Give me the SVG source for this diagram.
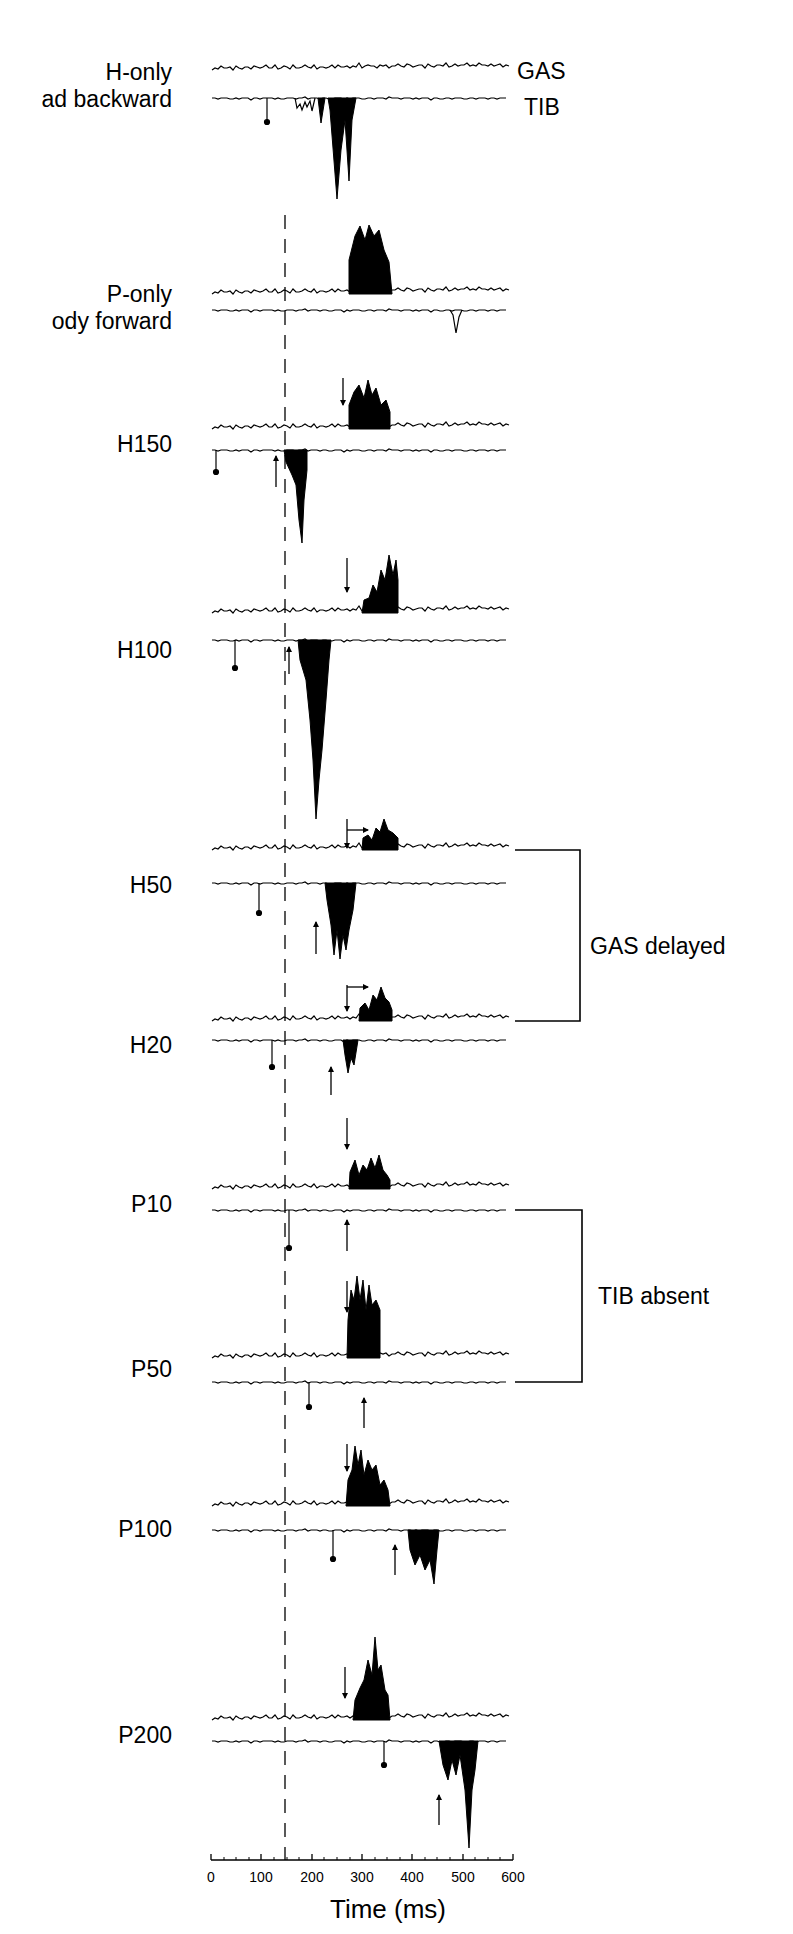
<svg xmlns="http://www.w3.org/2000/svg" width="793" height="1934" viewBox="0 0 793 1934">
<style>
.t{fill:none;stroke:#000;stroke-width:1.2}
.b{fill:#000;stroke:#000;stroke-width:1}
.ar{stroke:#000;stroke-width:1.3;fill:none;marker-end:url(#ah)}
.lb{font-family:"Liberation Sans",Arial,sans-serif;font-size:23px;fill:#000}
.tk{font-family:"Liberation Sans",Arial,sans-serif;font-size:14px;fill:#000;text-anchor:middle}
</style>
<defs>
<marker id="ah" markerWidth="6" markerHeight="8" refX="5" refY="4" orient="auto" markerUnits="userSpaceOnUse"><path d="M0,1 L6,4 L0,7 Z" fill="#000"/></marker>
<path id="n1" class="t" d="M0,0 l3,-2 3,1 3,-3 3,2 3,0 3,-1 3,3 3,-4 3,2 3,1 3,-2 3,0 3,2 3,-3 3,1 3,1 3,-1 3,-2 3,3 3,0 3,-3 3,4 3,-1 3,-2 3,1 3,2 3,-4 3,3 3,0 3,-1 3,-2 3,2 3,1 3,-3 3,4 3,-2 3,0 3,1 3,-1 3,-2 3,3 3,-3 3,2 3,0 3,-1 3,2 3,-2 3,1 3,-4 3,5 3,-2 3,-1 3,1 3,0 3,2 3,-3 3,1 3,-1 3,3 3,-2 3,0 3,-2 3,2 3,1 3,-3 3,1 3,2 3,-1 3,-1 3,0 3,3 3,-4 3,2 3,1 3,-2 3,0 3,1 3,-3 3,4 3,-1 3,-2 3,2 3,-1 3,0 3,-2 3,3 3,-1 3,1 3,-3 3,2 3,0 3,1 3,-2 3,2 3,-1 3,-1 3,3 3,-2 3,1"/>
<path id="n2" class="t" d="M0,0 l3,0 3,1 3,-1 3,0 3,0 3,1 3,0 3,-1 3,1 3,-1 3,0 3,0 3,2 3,-2 3,0 3,1 3,-1 3,0 3,0 3,0 3,1 3,-1 3,1 3,0 3,-1 3,0 3,0 3,1 3,-1 3,0 3,-1 3,2 3,-1 3,0 3,0 3,1 3,-1 3,0 3,1 3,0 3,-1 3,0 3,0 3,2 3,-2 3,1 3,-1 3,0 3,0 3,1 3,0 3,-1 3,0 3,1 3,-1 3,0 3,0 3,1 3,-2 3,1 3,0 3,0 3,1 3,-1 3,0 3,0 3,1 3,-1 3,1 3,-1 3,0 3,0 3,2 3,-2 3,0 3,1 3,0 3,-1 3,0 3,1 3,-1 3,0 3,0 3,1 3,0 3,-1 3,0 3,1 3,-1 3,0 3,0 3,1 3,-1 3,0 3,1 3,-1 3,0 3,0"/>
</defs>

<g id="labels">
<text class="lb" x="172" y="80" text-anchor="end">H-only</text>
<text class="lb" x="172" y="107" text-anchor="end">ad backward</text>
<text class="lb" x="172" y="302" text-anchor="end">P-only</text>
<text class="lb" x="172" y="329" text-anchor="end">ody forward</text>
<text class="lb" x="172" y="452" text-anchor="end">H150</text>
<text class="lb" x="172" y="658" text-anchor="end">H100</text>
<text class="lb" x="172" y="893" text-anchor="end">H50</text>
<text class="lb" x="172" y="1053" text-anchor="end">H20</text>
<text class="lb" x="172" y="1212" text-anchor="end">P10</text>
<text class="lb" x="172" y="1377" text-anchor="end">P50</text>
<text class="lb" x="172" y="1537" text-anchor="end">P100</text>
<text class="lb" x="172" y="1743" text-anchor="end">P200</text>
<text class="lb" x="517" y="79">GAS</text>
<text class="lb" x="524" y="115">TIB</text>
<text class="lb" x="590" y="954">GAS delayed</text>
<text class="lb" x="598" y="1304">TIB absent</text>
</g>

<line x1="285" y1="215" x2="285" y2="1860" stroke="#000" stroke-width="1.3" stroke-dasharray="14,10"/>

<g id="traces">
<use href="#n1" x="212" y="70"/><use href="#n2" x="212" y="98"/>
<use href="#n1" x="212" y="294"/><use href="#n2" x="212" y="310"/>
<use href="#n1" x="212" y="429"/><use href="#n2" x="212" y="450"/>
<use href="#n1" x="212" y="613"/><use href="#n2" x="212" y="640"/>
<use href="#n1" x="212" y="850"/><use href="#n2" x="212" y="883"/>
<use href="#n1" x="212" y="1021"/><use href="#n2" x="212" y="1040"/>
<use href="#n1" x="212" y="1189"/><use href="#n2" x="212" y="1210"/>
<use href="#n1" x="212" y="1358"/><use href="#n2" x="212" y="1382"/>
<use href="#n1" x="212" y="1506"/><use href="#n2" x="212" y="1530"/>
<use href="#n1" x="212" y="1720"/><use href="#n2" x="212" y="1741"/>
<path class="t" d="M295,98 l2,10 3,-4 2,6 3,-8 2,5 3,-6 2,10 3,-13"/>
<path class="t" d="M450,310 l3,5 3,18 3,-16 3,-7"/>
</g>

<g id="bursts">
<polygon class="b" points="318,98 321,123 325,98"/>
<polygon class="b" points="328,98 330,110 337,199 341,150 345,120 349,181 352,120 356,98"/>
<polygon class="b" points="349,294 349,260 355,236 360,226 365,240 369,225 374,236 379,230 384,250 389,262 392,294"/>
<polygon class="b" points="349,429 349,405 354,392 359,385 364,398 368,380 372,395 376,388 381,405 386,400 390,412 390,429"/>
<polygon class="b" points="284,450 286,462 292,475 296,485 299,520 302,543 304,500 307,470 307,450"/>
<polygon class="b" points="362,613 364,600 369,598 373,585 377,592 381,570 385,580 389,555 393,575 396,560 398,580 398,613"/>
<polygon class="b" points="298,640 300,660 306,680 310,720 313,760 316,819 319,780 322,750 326,700 329,660 331,640"/>
<polygon class="b" points="362,850 363,838 368,835 372,840 376,828 380,832 384,819 388,830 393,833 398,838 398,850"/>
<polygon class="b" points="325,883 327,900 331,925 334,955 337,930 340,959 343,935 346,950 349,930 353,910 356,883"/>
<polygon class="b" points="359,1021 360,1008 365,1003 369,1010 373,995 377,1000 381,987 385,998 389,1002 392,1010 392,1021"/>
<polygon class="b" points="343,1040 345,1055 348,1073 351,1058 354,1065 358,1040"/>
<polygon class="b" points="349,1189 350,1172 355,1160 359,1175 363,1165 367,1170 371,1158 375,1168 379,1155 383,1170 387,1175 390,1180 390,1189"/>
<polygon class="b" points="347,1358 348,1320 351,1290 354,1300 357,1276 360,1300 363,1280 366,1310 369,1285 372,1305 376,1300 380,1310 380,1358"/>
<polygon class="b" points="346,1506 348,1480 352,1470 355,1446 358,1465 361,1450 364,1475 368,1460 372,1470 376,1465 380,1485 384,1480 388,1490 390,1506"/>
<polygon class="b" points="408,1530 410,1550 415,1565 420,1555 425,1570 430,1560 434,1584 437,1550 439,1530"/>
<polygon class="b" points="353,1720 355,1700 360,1688 364,1680 368,1660 372,1675 375,1637 378,1670 381,1665 385,1690 388,1695 390,1720"/>
<polygon class="b" points="439,1741 443,1765 448,1780 452,1760 456,1775 460,1755 465,1790 469,1848 472,1790 475,1770 478,1741"/>
</g>

<g id="markers" stroke="#000" stroke-width="1.2">
<line x1="267" y1="98" x2="267" y2="122"/><circle cx="267" cy="122" r="2.5"/>
<line x1="216" y1="450" x2="216" y2="472"/><circle cx="216" cy="472" r="2.5"/>
<line x1="235" y1="640" x2="235" y2="668"/><circle cx="235" cy="668" r="2.5"/>
<line x1="259" y1="883" x2="259" y2="913"/><circle cx="259" cy="913" r="2.5"/>
<line x1="272" y1="1040" x2="272" y2="1067"/><circle cx="272" cy="1067" r="2.5"/>
<line x1="289" y1="1210" x2="289" y2="1248"/><circle cx="289" cy="1248" r="2.5"/>
<line x1="309" y1="1382" x2="309" y2="1407"/><circle cx="309" cy="1407" r="2.5"/>
<line x1="333" y1="1530" x2="333" y2="1559"/><circle cx="333" cy="1559" r="2.5"/>
<line x1="384" y1="1741" x2="384" y2="1765"/><circle cx="384" cy="1765" r="2.5"/>
</g>

<g id="arrows">
<line class="ar" x1="343" y1="378" x2="343" y2="405"/>
<line class="ar" x1="276" y1="487" x2="276" y2="456"/>
<line class="ar" x1="347" y1="558" x2="347" y2="592"/>
<line class="ar" x1="289" y1="674" x2="289" y2="647"/>
<line class="ar" x1="347" y1="819" x2="347" y2="848"/>
<line class="ar" x1="347" y1="830" x2="368" y2="830"/>
<line class="ar" x1="316" y1="954" x2="316" y2="922"/>
<line class="ar" x1="347" y1="985" x2="347" y2="1011"/>
<line class="ar" x1="347" y1="987" x2="368" y2="987"/>
<line class="ar" x1="331" y1="1095" x2="331" y2="1067"/>
<line class="ar" x1="347" y1="1118" x2="347" y2="1149"/>
<line class="ar" x1="347" y1="1251" x2="347" y2="1220"/>
<line class="ar" x1="347" y1="1281" x2="347" y2="1312"/>
<line class="ar" x1="364" y1="1428" x2="364" y2="1398"/>
<line class="ar" x1="347" y1="1444" x2="347" y2="1471"/>
<line class="ar" x1="395" y1="1575" x2="395" y2="1545"/>
<line class="ar" x1="345" y1="1667" x2="345" y2="1698"/>
<line class="ar" x1="439" y1="1825" x2="439" y2="1795"/>
</g>

<g id="brackets" fill="none" stroke="#000" stroke-width="1.6">
<polyline points="515,850 580,850 580,1021 515,1021"/>
<polyline points="515,1210 582,1210 582,1382 515,1382"/>
</g>

<g id="axis" stroke="#000" stroke-width="1.3">
<line x1="211" y1="1860" x2="513" y2="1860"/>
<path d="M211,1860v-6M261,1860v-6M312,1860v-6M362,1860v-6M412,1860v-6M463,1860v-6M513,1860v-6"/>
<path stroke-width="1" d="M224,1860v-3M236,1860v-3M249,1860v-3M274,1860v-3M287,1860v-3M299,1860v-3M324,1860v-3M337,1860v-3M350,1860v-3M375,1860v-3M387,1860v-3M400,1860v-3M425,1860v-3M437,1860v-3M450,1860v-3M475,1860v-3M488,1860v-3M500,1860v-3"/>
</g>
<g id="ticklabels">
<text class="tk" x="211" y="1882">0</text>
<text class="tk" x="261" y="1882">100</text>
<text class="tk" x="312" y="1882">200</text>
<text class="tk" x="362" y="1882">300</text>
<text class="tk" x="412" y="1882">400</text>
<text class="tk" x="463" y="1882">500</text>
<text class="tk" x="513" y="1882">600</text>
<text class="lb" x="388" y="1918" text-anchor="middle" style="font-size:26px">Time (ms)</text>
</g>
</svg>
